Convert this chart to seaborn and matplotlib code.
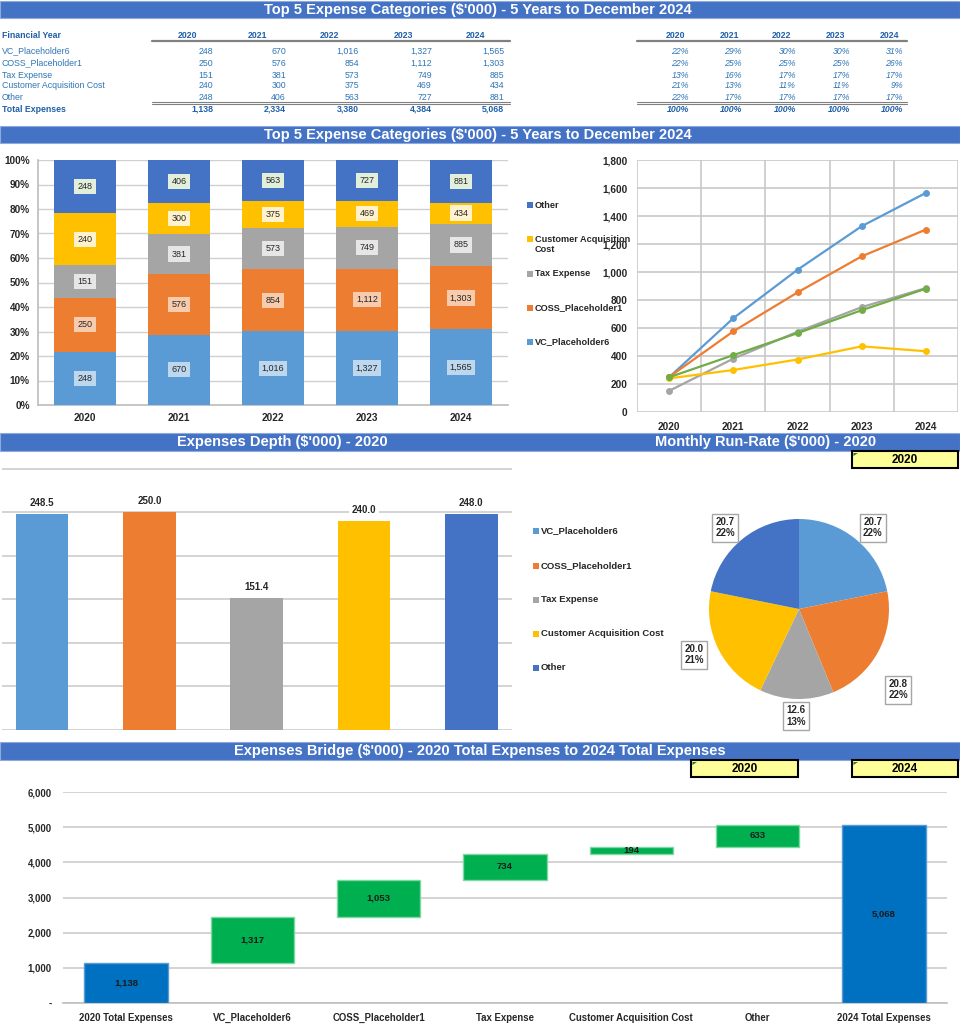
import numpy as np
import pandas as pd
import matplotlib
matplotlib.use("Agg")
import matplotlib.pyplot as plt
from matplotlib.patches import Rectangle, Polygon
from matplotlib.lines import Line2D
import seaborn as sns

# ---------------- data ----------------
years = ["2020", "2021", "2022", "2023", "2024"]
categories = ["VC_Placeholder6", "COSS_Placeholder1", "Tax Expense",
              "Customer Acquisition Cost", "Other"]
vc = [248, 670, 1016, 1327, 1565]
coss = [250, 576, 854, 1112, 1303]
tax = [151, 381, 573, 749, 885]
cac = [240, 300, 375, 469, 434]
other = [248, 406, 563, 727, 881]
totals = [1138, 2334, 3380, 4384, 5068]

pct_vc = [22, 29, 30, 30, 31]
pct_coss = [22, 25, 25, 25, 26]
pct_tax = [13, 16, 17, 17, 17]
pct_cac = [21, 13, 11, 11, 9]
pct_other = [22, 17, 17, 17, 17]
pct_total = [100, 100, 100, 100, 100]

depth_values = [248.5, 250.0, 151.4, 240.0, 248.0]
monthly_values = [20.7, 20.8, 12.6, 20.0, 20.7]

bridge_labels = ["2020 Total Expenses", "VC_Placeholder6", "COSS_Placeholder1",
                 "Tax Expense", "Customer Acquisition Cost", "Other",
                 "2024 Total Expenses"]
bridge_start = 1138
bridge_changes = [1317, 1053, 734, 194, 633]
bridge_end = 5068

series = [vc, coss, tax, cac, other]
pct_series = [pct_vc, pct_coss, pct_tax, pct_cac, pct_other]

# ---------------- style ----------------
sns.set_theme(style="white")
plt.rcParams['font.family'] = ['Liberation Sans', 'DejaVu Sans']

cat_colors = ["#5B9BD5", "#ED7D31", "#A5A5A5", "#FFC000", "#4472C4"]
line_colors = ["#5B9BD5", "#ED7D31", "#A5A5A5", "#FFC000", "#70AD47"]
label_fills = ["#BDD7EE", "#F8CBAD", "#E7E6E6", "#FFF2CC", "#E2EFDA"]
HDR = "#4472C4"
GRID = "#D0D0D0"
TBL = "#2E75B6"
TBLB = "#1F5FA8"
HDR_FS = 10.5

W, H = 960, 1024
fig = plt.figure(figsize=(W / 100, H / 100), dpi=100)


def add_ax(x0, y0, x1, y1):
    return fig.add_axes([x0 / W, 1 - y1 / H, (x1 - x0) / W, (y1 - y0) / H])


def ftext(x, y, s, **kw):
    return fig.text(x / W, 1 - y / H, s, **kw)


def frect(x0, y0, x1, y1, **kw):
    r = Rectangle((x0 / W, 1 - y1 / H), (x1 - x0) / W, (y1 - y0) / H,
                  transform=fig.transFigure, **kw)
    fig.add_artist(r)
    return r


def fline(x0, x1, y, **kw):
    fig.add_artist(Line2D([x0 / W, x1 / W], [1 - y / H, 1 - y / H],
                          transform=fig.transFigure, **kw))


def header(y0, y1):
    frect(0, y0, W, y1, facecolor=HDR, edgecolor="#8EA9DB", linewidth=0.8)


def yellow_box(x0, y0, x1, y1, s):
    frect(x0, y0, x1, y1, facecolor="#FFFF99", edgecolor="black", linewidth=1.5)
    fig.add_artist(Polygon([(x0 / W + 0.0015, 1 - y0 / H - 0.002),
                            ((x0 + 6) / W, 1 - y0 / H - 0.002),
                            (x0 / W + 0.0015, 1 - (y0 + 5) / H)],
                           closed=True, transform=fig.transFigure,
                           facecolor="#217346", edgecolor="none"))
    ftext((x0 + x1) / 2, (y0 + y1) / 2 + 0.5, s, ha="center", va="center",
          fontsize=8.5, fontweight="bold", color="black")


def legend_entry(x, y, color, s, fs=6.8):
    frect(x, y - 3, x + 6, y + 3, facecolor=color, edgecolor="none")
    ftext(x + 8, y, s, ha="left", va="center", fontsize=fs,
          fontweight="bold", color="#262626")


# ---------------- header 1 + table ----------------
header(1, 18)
ftext(478, 10, "Top 5 Expense Categories ($'000) - 5 Years to December 2024",
      ha="center", va="center", color="white", fontsize=HDR_FS, fontweight="bold")

row_y = [51, 63, 75, 86, 98]
val_x = [213, 286, 359, 432, 504]
yr_x = [187, 257, 330, 403, 475]
pct_x = [689, 742, 796, 850, 903]
pyr_x = [675, 729, 782, 836, 889]
fs_t = 6.3

ftext(2, 35, "Financial Year", ha="left", va="center", fontsize=fs_t,
      fontweight="bold", color=TBLB)
for i, yv in enumerate(years):
    ftext(yr_x[i], 35, yv, ha="center", va="center", fontsize=fs_t,
          fontweight="bold", color=TBLB)
    ftext(pyr_x[i], 35, yv, ha="center", va="center", fontsize=fs_t,
          fontweight="bold", color=TBLB)
for r, (name, vals, pvals) in enumerate(zip(categories, series, pct_series)):
    ftext(2, row_y[r], name, ha="left", va="center", fontsize=fs_t, color=TBL)
    for i in range(5):
        ftext(val_x[i], row_y[r], f"{vals[i]:,}", ha="right", va="center",
              fontsize=fs_t, color=TBL)
        ftext(pct_x[i], row_y[r], f"{pvals[i]}%", ha="right", va="center",
              fontsize=fs_t, color=TBL, style="italic")
ftext(2, 109, "Total Expenses", ha="left", va="center", fontsize=fs_t,
      fontweight="bold", color=TBLB)
for i in range(5):
    ftext(val_x[i], 109, f"{totals[i]:,}", ha="right", va="center",
          fontsize=fs_t, fontweight="bold", color=TBLB)
    ftext(pct_x[i], 109, f"{pct_total[i]}%", ha="right", va="center",
          fontsize=fs_t, fontweight="bold", color=TBLB, style="italic")
for (a, b) in [(152, 510), (637, 907)]:
    fline(a, b, 40.5, color="#808080", linewidth=1.6)
    fline(a, b, 102.3, color="#808080", linewidth=0.8)
    fline(a, b, 104.0, color="#808080", linewidth=0.8)

# ---------------- header 2 ----------------
header(126, 143)
ftext(478, 134.5, "Top 5 Expense Categories ($'000) - 5 Years to December 2024",
      ha="center", va="center", color="white", fontsize=HDR_FS, fontweight="bold")

# ---------------- stacked 100% bar ----------------
ax1 = add_ax(38, 160, 508, 405)
x = np.arange(len(years))
tot = np.sum(np.array(series, dtype=float), axis=0)
bottom = np.zeros(len(years))
for k, vals in enumerate(series):
    frac = np.array(vals) / tot
    ax1.bar(x, frac, bottom=bottom, width=0.66, color=cat_colors[k],
            linewidth=0, zorder=3)
    for i in range(len(years)):
        ax1.text(x[i], bottom[i] + frac[i] / 2, f"{vals[i]:,}", ha="center",
                 va="center", fontsize=6.5, color="#262626", zorder=5,
                 bbox=dict(boxstyle="square,pad=0.35", facecolor=label_fills[k],
                           edgecolor="none"))
    bottom += frac
ax1.set_xlim(-0.5, 4.5)
ax1.set_ylim(0, 1)
ax1.set_yticks(np.arange(0, 1.01, 0.1))
ax1.set_yticklabels([f"{int(round(v * 100))}%" for v in np.arange(0, 1.01, 0.1)])
ax1.set_xticks(x)
ax1.set_xticklabels(years)
ax1.yaxis.grid(True, color=GRID, linewidth=1.0, zorder=0)
ax1.set_axisbelow(True)
for s in ["top", "right"]:
    ax1.spines[s].set_visible(False)
for s in ["left", "bottom"]:
    ax1.spines[s].set_color("#BFBFBF")
ax1.tick_params(axis="both", length=0, labelsize=7.2, colors="#262626")
ax1.tick_params(axis="y", pad=6)
ax1.tick_params(axis="x", pad=6)
for t in ax1.get_xticklabels() + ax1.get_yticklabels():
    t.set_fontweight("bold")

# shared legend between the two charts
leg_order = [4, 3, 2, 1, 0]
leg_y = [205, 239, 274, 308, 342]
for k, yy in zip(leg_order, leg_y):
    nm = categories[k]
    if nm == "Customer Acquisition Cost":
        legend_entry(527, yy, cat_colors[k], "Customer Acquisition", fs=6.6)
        ftext(535, yy + 11, "Cost", ha="left", va="center", fontsize=6.6,
              fontweight="bold", color="#262626")
    else:
        legend_entry(527, yy, cat_colors[k], nm, fs=6.6)

# ---------------- line chart ----------------
ax2 = add_ax(637, 160, 958, 412)
df_long = pd.DataFrame({
    "xi": np.tile(np.arange(len(years)), len(categories)),
    "value": np.concatenate([np.array(v) for v in series]),
    "category": np.repeat(categories, len(years)),
})
sns.lineplot(data=df_long, x="xi", y="value", hue="category",
             hue_order=categories, palette=dict(zip(categories, line_colors)),
             marker="o", markersize=5, markeredgewidth=0, linewidth=1.6,
             legend=False, ax=ax2, zorder=3)
ax2.set_xlim(-0.5, 4.5)
ax2.set_ylim(0, 1800)
ax2.set_yticks(np.arange(0, 1801, 200))
ax2.set_yticklabels([f"{v:,}" for v in range(0, 1801, 200)])
ax2.set_xticks(np.arange(5))
ax2.set_xticklabels(years)
ax2.set_xticks(np.arange(-0.5, 4.6, 1), minor=True)
ax2.xaxis.grid(True, which="minor", color="#C8C8C8", linewidth=1.2)
ax2.yaxis.grid(True, color="#C8C8C8", linewidth=1.2)
ax2.set_axisbelow(True)
ax2.set_xlabel("")
ax2.set_ylabel("")
for s in ax2.spines.values():
    s.set_visible(False)
ax2.tick_params(axis="both", which="both", length=0, labelsize=7.2,
                colors="#262626")
ax2.tick_params(axis="y", pad=7)
ax2.tick_params(axis="x", pad=7)
for t in ax2.get_xticklabels() + ax2.get_yticklabels():
    t.set_fontweight("bold")

# ---------------- header 3 ----------------
header(433, 451)
ftext(282, 442, "Expenses Depth ($'000) - 2020", ha="center", va="center",
      color="white", fontsize=HDR_FS, fontweight="bold")
ftext(766, 442, "Monthly Run-Rate ($'000) - 2020", ha="center", va="center",
      color="white", fontsize=HDR_FS, fontweight="bold")
yellow_box(852, 451, 958, 468, "2020")

# ---------------- depth bars ----------------
ax3 = add_ax(2, 468, 512, 730)
sns.barplot(x=categories, y=depth_values, hue=categories,
            palette=dict(zip(categories, cat_colors)), saturation=1,
            width=0.49, legend=False, linewidth=0, ax=ax3, zorder=3)
ax3.set_xlim(-0.373, 4.38)
ax3.set_ylim(0, 301)
ax3.set_yticks(np.arange(0, 301, 50))
ax3.yaxis.grid(True, color=GRID, linewidth=1.3, zorder=0)
ax3.set_axisbelow(True)
ax3.set_xticks([])
ax3.set_yticklabels([])
ax3.tick_params(length=0)
ax3.set_xlabel("")
ax3.set_ylabel("")
for s in ax3.spines.values():
    s.set_visible(False)
for i, v in enumerate(depth_values):
    ax3.annotate(f"{v:.1f}", (i, v), xytext=(0, 8), textcoords="offset points",
                 ha="center", va="center", fontsize=7, fontweight="bold",
                 color="#262626", zorder=6,
                 bbox=dict(boxstyle="square,pad=0.3", facecolor="white",
                           edgecolor="none"))

# ---------------- pie ----------------
cx, cy, rr = 799, 609, 90
ax4 = add_ax(cx - rr, cy - rr, cx + rr, cy + rr)
wedges, _ = ax4.pie(monthly_values, colors=cat_colors, startangle=90,
                    counterclock=False, radius=1,
                    wedgeprops=dict(linewidth=0))
ax4.set_xlim(-1, 1)
ax4.set_ylim(-1, 1)
ax4.set_aspect("equal")
tot_m = sum(monthly_values)
lab_dist = [1.22, 1.42, 1.19, 1.27, 1.22]
lab_shift = [-3, -11, 0, -3, 3]
for w, v, d, sh in zip(wedges, monthly_values, lab_dist, lab_shift):
    ang = np.deg2rad((w.theta1 + w.theta2) / 2 + sh)
    ax4.text(d * np.cos(ang), d * np.sin(ang),
             f"{v:.1f}\n{v / tot_m * 100:.0f}%", ha="center", va="center",
             fontsize=7, fontweight="bold", color="#262626", linespacing=1.15,
             clip_on=False,
             bbox=dict(boxstyle="square,pad=0.35", facecolor="white",
                       edgecolor="#A6A6A6", linewidth=1))
pie_leg_y = [531, 566, 600, 634, 668]
for k, yy in enumerate(pie_leg_y):
    legend_entry(533, yy, cat_colors[k], categories[k])

# ---------------- header 4 + waterfall ----------------
header(742, 760)
ftext(480, 751, "Expenses Bridge ($'000) - 2020 Total Expenses to 2024 Total Expenses",
      ha="center", va="center", color="white", fontsize=HDR_FS, fontweight="bold")
yellow_box(691, 760, 798, 777, "2020")
yellow_box(852, 760, 958, 777, "2024")

ax5 = add_ax(63, 792, 947, 1003)
heights = [bridge_start] + bridge_changes + [bridge_end]
bottoms = [0]
run = bridge_start
for c in bridge_changes:
    bottoms.append(run)
    run += c
bottoms.append(0)
colors5 = ["#0070C0"] + ["#00B050"] * len(bridge_changes) + ["#0070C0"]
edges5 = ["#5B9BD5"] + ["#7FD8A0"] * len(bridge_changes) + ["#5B9BD5"]
xb = np.arange(len(bridge_labels))
ax5.bar(xb, heights, bottom=bottoms, width=0.66, color=colors5,
        edgecolor=edges5, linewidth=1, zorder=3)
for i in range(len(xb)):
    ax5.text(xb[i], bottoms[i] + heights[i] / 2, f"{heights[i]:,}",
             ha="center", va="center", fontsize=6.8, fontweight="bold",
             color="#1a1a1a", zorder=5)
ax5.set_xlim(-0.5, len(xb) - 0.5)
ax5.set_ylim(0, 6000)
ax5.set_yticks(np.arange(0, 6001, 1000))
ax5.set_yticklabels(["-"] + [f"{v:,}" for v in range(1000, 6001, 1000)])
ax5.set_xticks(xb)
ax5.set_xticklabels(bridge_labels)
ax5.set_xticks(np.arange(-0.5, len(xb), 1), minor=True)
ax5.yaxis.grid(True, color=GRID, linewidth=1.3, zorder=0)
ax5.set_axisbelow(True)
for s in ["top", "right", "left"]:
    ax5.spines[s].set_visible(False)
ax5.spines["bottom"].set_color("#BFBFBF")
ax5.spines["bottom"].set_linewidth(1.2)
ax5.tick_params(axis="both", which="major", length=0, labelsize=6.9,
                colors="#262626")
ax5.tick_params(axis="x", which="minor", length=4, color="#BFBFBF", width=1.2,
                direction="out")
ax5.tick_params(axis="y", pad=8)
ax5.tick_params(axis="x", which="major", pad=7)
for t in ax5.get_xticklabels() + ax5.get_yticklabels():
    t.set_fontweight("bold")

fig.savefig("out.png", dpi=100, facecolor="white")
